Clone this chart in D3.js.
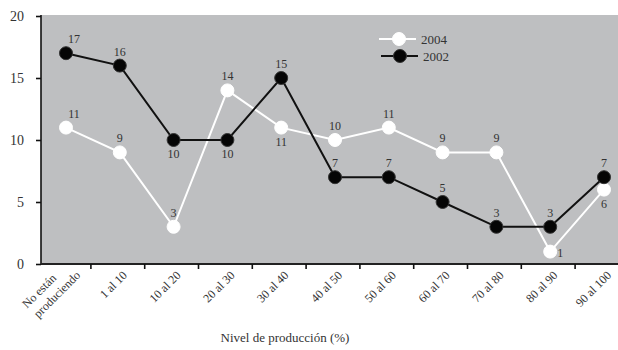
<!DOCTYPE html>
<html>
<head>
<meta charset="utf-8">
<script src="https://cdn.jsdelivr.net/npm/d3@7"></script>
<style>
  html, body { margin: 0; padding: 0; background: #fff; }
  svg { display: block; }
  text { font-family: "Liberation Serif", "DejaVu Serif", serif; fill: #333; }
</style>
</head>
<body>
<svg id="chart" width="618" height="350"></svg>
<script>
// Share of producers by production level (%), two survey years
const categories = ["No están\nproduciendo", "1 al 10", "10 al 20", "20 al 30", "30 al 40",
  "40 al 50", "50 al 60", "60 al 70", "70 al 80", "80 al 90", "90 al 100"];
const values2004 = [11, 9, 3, 14, 11, 10, 11, 9, 9, 1, 6];
const values2002 = [17, 16, 10, 10, 15, 7, 7, 5, 3, 3, 7];
const yTicks = [0, 5, 10, 15, 20];
const seriesNames = ["2004", "2002"];
const xTitle = "Nivel de producción (%)";

// where each value label sits relative to its marker
const place2004 = ["aboveR", "above", "above", "above", "below", "above", "above", "above", "above", "right", "below"];
const place2002 = ["aboveR", "above", "below", "below", "above", "above", "above", "above", "above", "above", "above"];

const svg = d3.select("#chart");
const plot = { left: 41, right: 618, top: 15, bottom: 264 };

const x = d3.scalePoint().domain(categories).range([66, 604]);
const y = d3.scaleLinear().domain([0, 20]).range([plot.bottom, 16]);

// plot background
svg.append("rect")
  .attr("x", plot.left).attr("y", plot.top)
  .attr("width", plot.right - plot.left).attr("height", plot.bottom - plot.top)
  .attr("fill", "#bebfc1");

// y axis
const yAxis = svg.append("g")
  .attr("transform", `translate(${plot.left},0)`)
  .call(d3.axisLeft(y).tickValues(yTicks).tickSize(5).tickPadding(12).tickFormat(d3.format("d")));
yAxis.select(".domain").attr("d", `M0,${plot.top}V${plot.bottom}`).attr("stroke", "#111").attr("stroke-width", 1.6);
yAxis.selectAll(".tick line").attr("stroke", "#111").attr("stroke-width", 1.6);
yAxis.selectAll(".tick text").attr("font-size", 14).attr("fill", "#333")
  .attr("font-family", "Liberation Serif, serif");

// x axis: baseline with ticks between categories
const step = x.step();
const boundaries = categories.slice(1).map(c => x(c) - step / 2 - 2);
svg.append("line")
  .attr("x1", plot.left).attr("x2", plot.right)
  .attr("y1", plot.bottom).attr("y2", plot.bottom)
  .attr("stroke", "#222").attr("stroke-width", 1.8);
svg.selectAll("line.xtick").data(boundaries).join("line")
  .attr("class", "xtick")
  .attr("x1", d => d).attr("x2", d => d)
  .attr("y1", plot.bottom).attr("y2", plot.bottom + 5)
  .attr("stroke", "#111").attr("stroke-width", 1.6);

// rotated category labels
const xl = svg.append("g");
categories.forEach((c, i) => {
  const lines = c.split("\n");
  if (lines.length === 1) {
    xl.append("g")
      .attr("transform", `translate(${x(c) + 8},276) rotate(-45)`)
      .append("text").attr("text-anchor", "end").attr("font-size", 12).text(c);
  } else {
    const g = xl.append("g")
      .attr("transform", `translate(${x(c) + 15},276) rotate(-45)`);
    g.append("text").attr("text-anchor", "end").attr("font-size", 12)
      .attr("x", -19).attr("y", -15).text(lines[0]);
    g.append("text").attr("text-anchor", "end").attr("font-size", 12)
      .attr("x", 0).attr("y", 0).text(lines[1]);
  }
});

svg.append("text")
  .attr("x", 285).attr("y", 342)
  .attr("text-anchor", "middle").attr("font-size", 13)
  .text(xTitle);

// series lines and markers
const line = d3.line().x((d, i) => x(categories[i])).y(d => y(d));

function drawSeries(vals, stroke, fill, places) {
  svg.append("path").datum(vals)
    .attr("d", line).attr("fill", "none")
    .attr("stroke", stroke).attr("stroke-width", 2);
  svg.append("g").selectAll("circle").data(vals).join("circle")
    .attr("cx", (d, i) => x(categories[i])).attr("cy", d => y(d))
    .attr("r", 6.5).attr("fill", fill)
    .attr("stroke", fill === "#fff" ? "#fff" : "#333").attr("stroke-width", 1);
  svg.append("g").selectAll("text").data(vals).join("text")
    .attr("font-size", 12)
    .attr("text-anchor", (d, i) => places[i] === "right" ? "start" : "middle")
    .attr("x", (d, i) => {
      const cx = x(categories[i]);
      if (places[i] === "right") return cx + 7;
      if (places[i] === "aboveR") return cx + 8;
      return cx;
    })
    .attr("y", (d, i) => {
      const cy = y(d);
      if (places[i] === "below") return cy + 18;
      if (places[i] === "right") return cy + 5;
      return cy - 10;
    })
    .text(d => d);
}

drawSeries(values2004, "#fff", "#fff", place2004);
drawSeries(values2002, "#111", "#050505", place2002);

// legend
const legend = svg.append("g");
const legendRows = [
  { name: seriesNames[0], stroke: "#fff", fill: "#fff", x1: 379, x2: 416, cx: 399, y: 39, tx: 421 },
  { name: seriesNames[1], stroke: "#111", fill: "#050505", x1: 381, x2: 418, cx: 400, y: 56, tx: 423 }
];
legendRows.forEach(r => {
  legend.append("line").attr("x1", r.x1).attr("x2", r.x2).attr("y1", r.y).attr("y2", r.y)
    .attr("stroke", r.stroke).attr("stroke-width", 2);
  legend.append("circle").attr("cx", r.cx).attr("cy", r.y).attr("r", 6.5)
    .attr("fill", r.fill).attr("stroke", r.fill === "#fff" ? "#fff" : "#333");
  legend.append("text").attr("x", r.tx).attr("y", r.y + 5).attr("font-size", 13).text(r.name);
});
</script>
</body>
</html>
